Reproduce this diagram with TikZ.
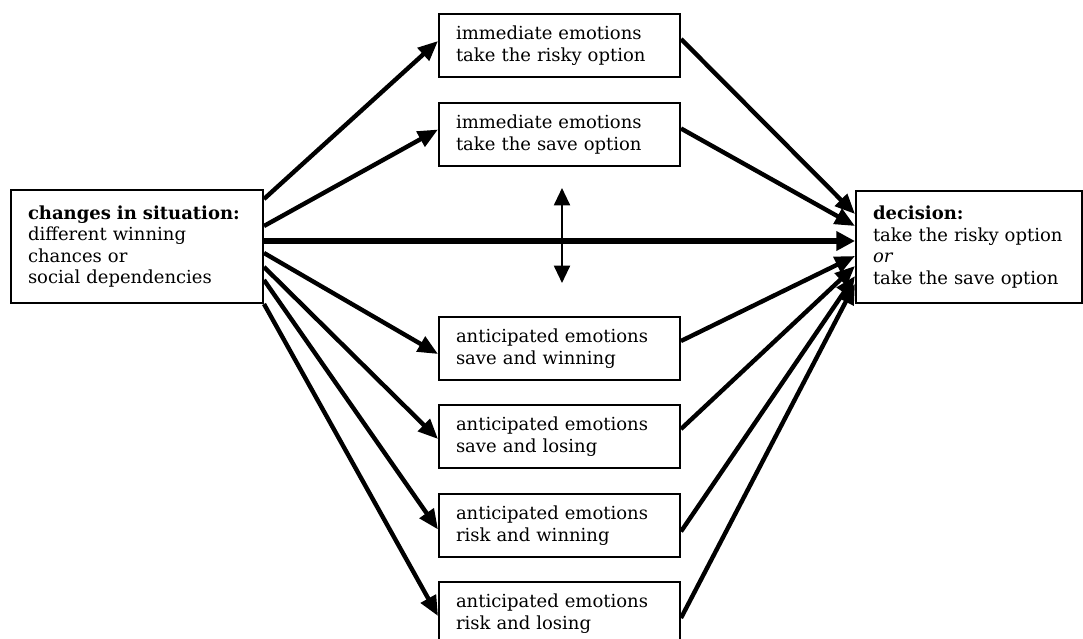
\documentclass[tikz,border=0pt]{standalone}
\usepackage{fontspec}
\setmainfont{DejaVu Serif}
\usetikzlibrary{arrows.meta,calc}
\tikzset{
  box/.style={draw, line width=1.5pt, anchor=north west, align=left, inner xsep=12.75pt, inner ysep=0pt,
    font=\fontsize{13.5}{16.2}\selectfont},
  smallbox/.style={box, text width=155.25pt, minimum height=47.25pt},
  arr/.style={line width=3.3pt, -{Triangle[length=15pt,width=12.5pt]}},
  thickarr/.style={line width=5pt, -{Triangle[length=14pt,width=14pt]}},
  dblarr/.style={line width=1.5pt, {Triangle[length=13pt,width=12pt]}-{Triangle[length=13pt,width=12pt]}}
}
\begin{document}
\begin{tikzpicture}[x=0.75pt,y=-0.75pt]
\clip (0,0) rectangle (1083,639);
\useasboundingbox (0,0) rectangle (1083,639);
\fill[white] (0,0) rectangle (1083,639);
\node[box, text width=163.5pt, minimum height=84.75pt] (L) at (10,189)
  {\textbf{changes in situation:}\\different winning\\chances or\\social dependencies};
\node[box, text width=144pt, minimum height=84pt] (R) at (855,190)
  {\textbf{decision:}\\take the risky option\\\textit{or}\\take the save option};
\node[smallbox] (b1) at (438,13) {immediate emotions\\take the risky option};
\node[smallbox] (b2) at (438,102) {immediate emotions\\take the save option};
\node[smallbox] (b3) at (438,316) {anticipated emotions\\save and winning};
\node[smallbox] (b4) at (438,404) {anticipated emotions\\save and losing};
\node[smallbox] (b5) at (438,493) {anticipated emotions\\risk and winning};
\node[smallbox] (b6) at (438,581) {anticipated emotions\\risk and losing};
% left to middle
\draw[arr] ($(L.east)+(0,-47.5)$) -- ($(b1.west)+(0,-4.5)$);
\draw[arr] ($(L.east)+(0,-20.5)$) -- ($(b2.west)+(0,-5)$);
\draw[arr] ($(L.east)+(0,6.5)$) -- ($(b3.west)+(0,5.5)$);
\draw[arr] ($(L.east)+(0,20.5)$) -- ($(b4.west)+(0,2.5)$);
\draw[arr] ($(L.east)+(0,33.5)$) -- ($(b5.west)+(0,4)$);
\draw[arr] (L.south east) -- ($(b6.west)+(0,2.5)$);
% thick direct
\draw[thickarr] ($(L.east)+(0,-5.5)$) -- ($(R.west)+(0,-6)$);
% middle to right
\draw[arr] ($(b1.east)+(0,-6.5)$) -- ($(R.west)+(0,-33)$);
\draw[arr] ($(b2.east)+(0,-6)$) -- ($(R.west)+(0,-21)$);
\draw[arr] ($(b3.east)+(0,-7.5)$) -- ($(R.west)+(0,9)$);
\draw[arr] ($(b4.east)+(0,-7.5)$) -- ($(R.west)+(0,19)$);
\draw[arr] ($(b5.east)+(0,6)$) -- ($(R.west)+(0,29)$);
\draw[arr] ($(b6.east)+(0,4.5)$) -- ($(R.west)+(0,37)$);
% double arrow
\coordinate (dt) at (562,188);
\coordinate (db) at (562,283);
\draw[dblarr] (dt) -- (db);
\end{tikzpicture}
\end{document}
